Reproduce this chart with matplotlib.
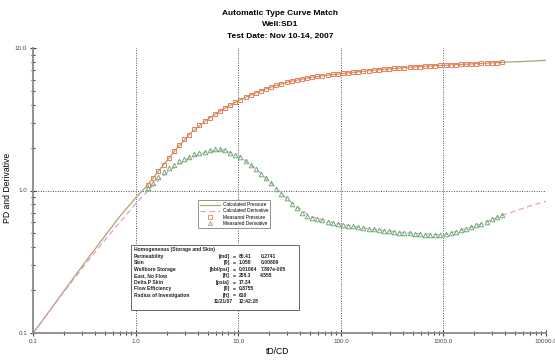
import matplotlib
matplotlib.use('Agg')
import matplotlib.pyplot as plt
from matplotlib.patches import Rectangle
from matplotlib.lines import Line2D

plt.rcParams['font.family'] = ['Liberation Sans', 'DejaVu Sans']

# measured data (dimensionless time, pressure, derivative)
meas_td = [1.318, 1.479, 1.660, 1.862, 2.089, 2.344, 2.630, 2.951, 3.311, 3.715,
           4.169, 4.677, 5.248, 5.888, 6.607, 7.413, 8.318, 9.333, 10.47, 11.75,
           13.18, 14.79, 16.60, 18.62, 20.89, 23.44, 26.30, 29.51, 33.11, 37.15,
           41.69, 46.77, 52.48, 58.88, 66.07, 74.13, 83.18, 93.33, 104.7, 117.5,
           131.8, 147.9, 166.0, 186.2, 208.9, 234.4, 263.0, 295.1, 331.1, 371.5,
           416.9, 467.7, 524.8, 588.8, 660.7, 741.3, 831.8, 933.3, 1047, 1175,
           1318, 1479, 1660, 1862, 2089, 2344, 2630, 2951, 3311, 3715]
meas_pd = [1.10, 1.23, 1.36, 1.51, 1.69, 1.88, 2.09, 2.28, 2.47, 2.68,
           2.88, 3.05, 3.24, 3.43, 3.60, 3.79, 3.98, 4.16, 4.33, 4.51,
           4.68, 4.86, 5.02, 5.18, 5.33, 5.47, 5.61, 5.75, 5.87, 5.97,
           6.06, 6.15, 6.25, 6.31, 6.38, 6.44, 6.52, 6.58, 6.64, 6.70,
           6.76, 6.81, 6.87, 6.93, 7.00, 7.05, 7.10, 7.14, 7.19, 7.24,
           7.28, 7.33, 7.38, 7.41, 7.45, 7.48, 7.52, 7.55, 7.59, 7.60,
           7.64, 7.67, 7.69, 7.73, 7.76, 7.80, 7.82, 7.85, 7.89, 7.93]
meas_der = [1.04, 1.13, 1.24, 1.35, 1.43, 1.52, 1.61, 1.67, 1.73, 1.79,
            1.84, 1.87, 1.91, 1.94, 1.95, 1.91, 1.84, 1.78, 1.71, 1.61,
            1.51, 1.41, 1.31, 1.22, 1.13, 1.03, 0.95, 0.88, 0.81, 0.75,
            0.70, 0.665, 0.64, 0.627, 0.617, 0.605, 0.594, 0.583, 0.574, 0.567,
            0.560, 0.553, 0.547, 0.540, 0.533, 0.527, 0.523, 0.518, 0.512, 0.507,
            0.504, 0.500, 0.498, 0.494, 0.491, 0.489, 0.488, 0.490, 0.492, 0.500,
            0.509, 0.525, 0.540, 0.555, 0.570, 0.586, 0.603, 0.627, 0.652, 0.676]

# calculated type curves
calc_td = [0.1, 0.2, 0.3, 0.5, 0.7, 1.0, 1.3, 1.8, 2.5, 3.5, 5, 7, 10, 15, 20,
           30, 50, 70, 100, 200, 500, 1000, 2000, 4000, 7000, 10000]
calc_pd = [0.1, 0.198, 0.295, 0.48, 0.66, 0.89, 1.09, 1.47, 1.97, 2.57, 3.16, 3.70,
           4.27, 4.86, 5.27, 5.77, 6.21, 6.41, 6.60, 6.97, 7.36, 7.57, 7.75, 7.95,
           8.08, 8.2]
calc_der = [0.1, 0.195, 0.285, 0.45, 0.60, 0.81, 0.99, 1.25, 1.50, 1.72, 1.88, 1.93,
            1.76, 1.41, 1.16, 0.87, 0.66, 0.615, 0.58, 0.535, 0.50, 0.488, 0.56,
            0.68, 0.78, 0.84]

x_ticks = [0.1, 1, 10, 100, 1000, 10000]
x_labels = ['0.1', '1.0', '10.0', '100.0', '1000.0', '10000.0']
y_ticks = [0.1, 1, 10]
y_labels = ['0.1', '1.0', '10.0']

title_lines = ['Automatic Type Curve Match', 'Well:SD1', 'Test Date: Nov 10-14, 2007']

info_rows = [
    ('Permeability', '[md]', '80.41', '0.2741'),
    ('Skin', '[0]', '1.058', '0.00809'),
    ('Wellbore Storage', '[bbl/psi]', '0.01064', '7.897e-005'),
    ('East, No Flow', '[ft]', '258.3', '4.555'),
    ('Delta P Skin', '[psia]', '17.34', ''),
    ('Flow Efficiency', '[0]', '0.8755', ''),
    ('Radius of Investigation', '[ft]', '610', ''),
]

c_calc_p = '#a8a868'
c_calc_d = '#e890d8'
c_meas_p = '#f27a5c'
c_meas_d = '#6fae72'
c_axis = '#8a8a8a'
c_grid = '#505050'

fig = plt.figure(figsize=(5.55, 3.62), dpi=100)
ax = fig.add_axes([33.3 / 555, 29 / 362, 512.7 / 555, 285 / 362])
ax.set_xscale('log')
ax.set_yscale('log')
ax.set_xlim(0.1, 10000)
ax.set_ylim(0.1, 10)

for v in x_ticks[1:]:
    ax.axvline(v, color=c_grid, lw=0.7, ls=(0, (1, 1.5)), zorder=1)
ax.axhline(1, color=c_grid, lw=0.7, ls=(0, (1, 1.5)), zorder=1)

ax.plot(calc_td, calc_pd, color=c_calc_p, lw=0.9, zorder=2)
ax.plot(calc_td, calc_der, color=c_calc_d, lw=0.8, ls=(0, (5, 3)), zorder=2)
ax.plot(meas_td, meas_pd, ls='none', marker='s', ms=3.0, mfc='none',
        mec=c_meas_p, mew=0.7, zorder=3)
ax.plot(meas_td, meas_der, ls='none', marker='^', ms=3.3, mfc='none',
        mec=c_meas_d, mew=0.7, zorder=3)

for s in ['top', 'right']:
    ax.spines[s].set_visible(False)
for s in ['left', 'bottom']:
    ax.spines[s].set_color(c_axis)
    ax.spines[s].set_linewidth(1.3)

ax.set_xticks(x_ticks)
ax.set_xticklabels(x_labels)
ax.set_yticks(y_ticks)
ax.set_yticklabels(y_labels)
ax.tick_params(which='both', direction='inout', colors='#404040', labelsize=4.5,
               labelcolor='#444444')
ax.tick_params(which='major', length=5, width=0.8, pad=2)
ax.tick_params(which='minor', length=3.5, width=0.8)
ax.tick_params(axis='y', which='minor', labelleft=False)
ax.tick_params(axis='x', which='minor', labelbottom=False)

ax.set_xlabel('tD/CD', fontsize=6.2)
ax.xaxis.set_label_coords((278 - 33.3) / 512.7, -(347 - 333) / 285)
ax.set_ylabel('PD and Derivative', fontsize=6.2)
ax.yaxis.set_label_coords(-(33.3 - 12) / 512.7, (333 - 188) / 285)

for i, line in enumerate(title_lines):
    fig.text(0.505, 0.962 - i * 0.031, line, ha='center', va='center',
             fontsize=6, fontweight='bold')

# legend
handles = [
    Line2D([], [], color=c_calc_p, lw=0.9),
    Line2D([], [], color=c_calc_d, lw=0.8, ls=(0, (5, 3))),
    Line2D([], [], ls='none', marker='s', ms=2.5, mfc='none', mec=c_meas_p, mew=0.6),
    Line2D([], [], ls='none', marker='^', ms=2.8, mfc='none', mec=c_meas_d, mew=0.6),
]
leg = ax.legend(handles, ['Calculated Pressure', 'Calculated Derivative',
                          'Measured Pressure', 'Measured Derivative'],
                loc='upper left', bbox_to_anchor=(0.321, 0.466), fontsize=3.4,
                frameon=True, fancybox=False, edgecolor='#777777',
                handlelength=4.2, handletextpad=0.6, labelspacing=0.25,
                borderpad=0.45, borderaxespad=0)
leg.get_frame().set_linewidth(0.7)

# parameter box
ax.add_patch(Rectangle((0.190, 0.081), 0.328, 0.228, transform=ax.transAxes,
                       facecolor='white', edgecolor='#666666', lw=0.7, zorder=4))
tkw = dict(transform=ax.transAxes, fontsize=3.6, fontweight='bold',
           va='center', zorder=5, color='#222222')
y0 = (333 - 250) / 285
dy = 6.45 / 285
ax.text(0.196, y0, 'Homogeneous (Storage and Skin)', ha='left', **tkw)
for i, (name, unit, v1, v2) in enumerate(info_rows):
    yy = y0 - (i + 1) * dy
    ax.text(0.196, yy, name, ha='left', **tkw)
    ax.text(0.383, yy, unit, ha='right', **tkw)
    ax.text(0.392, yy, '=', ha='center', **tkw)
    ax.text(0.400, yy, v1, ha='left', **tkw)
    if v2:
        ax.text(0.443, yy, v2, ha='left', **tkw)
yy = y0 - 8 * dy
ax.text(0.389, yy, '11/21/07', ha='right', **tkw)
ax.text(0.400, yy, '12:42:28', ha='left', **tkw)

fig.savefig('out.png', dpi=100)
